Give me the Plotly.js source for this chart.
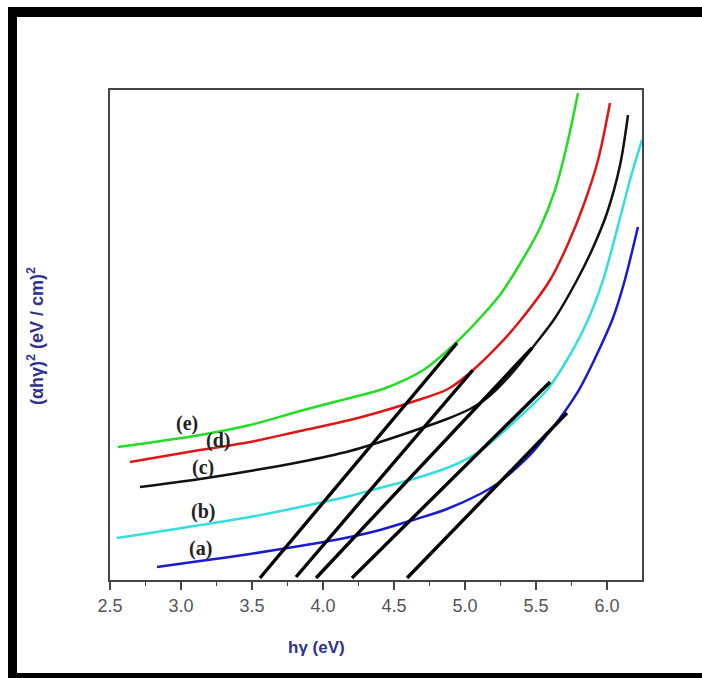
<!DOCTYPE html>
<html>
<head>
<meta charset="utf-8">
<script src="https://cdn.plot.ly/plotly-3.0.1.min.js"></script>
<style>
html,body{margin:0;padding:0;background:#fff;}
#wrap{position:relative;width:702px;height:678px;overflow:hidden;}
#chart{width:702px;height:678px;}
.bd{position:absolute;background:#000;}
</style>
</head>
<body>
<div id="wrap">
<div id="chart"></div>
<div class="bd" style="left:8px;top:7px;width:694px;height:10px;"></div>
<div class="bd" style="left:8px;top:7px;width:9px;height:671px;"></div>
<div class="bd" style="left:8px;top:673px;width:694px;height:5px;"></div>
</div>
<script>
// Photon energy hv (eV) and (alpha h v)^2 (arbitrary units) for samples (a)-(e)
const hvA = [2.831,3.134,3.486,3.838,4.190,4.401,4.634,4.873,5.106,5.225,5.338,5.458,5.577,5.690,5.810,5.930,6.042,6.120,6.218];
const yA  = [2.65,3.88,5.31,6.94,8.78,10.20,12.24,14.49,17.55,19.59,22.24,25.51,29.59,33.88,39.18,46.12,53.47,60.61,72.04];

const hvB = [2.549,2.782,3.134,3.486,3.838,4.190,4.401,4.634,4.873,4.986,5.106,5.338,5.577,5.718,5.859,5.972,6.092,6.162,6.246];
const yB  = [8.57,9.59,11.22,12.86,14.90,17.14,18.78,20.61,22.86,24.29,26.33,32.04,38.78,44.90,52.65,61.22,73.88,81.63,89.80];

const hvC = [2.711,3.134,3.486,3.838,4.190,4.401,4.634,4.873,5.035,5.127,5.225,5.338,5.479,5.634,5.789,5.894,6.000,6.092,6.148];
const yC  = [18.98,20.61,22.24,24.08,26.33,28.16,30.41,32.86,34.90,36.53,38.98,42.45,47.55,53.47,61.22,67.35,74.90,84.69,94.90];

const hvD = [2.641,3.134,3.486,3.838,4.190,4.423,4.648,4.880,5.049,5.232,5.387,5.599,5.725,5.838,5.937,6.021];
const yD  = [24.08,26.53,28.16,30.41,32.65,34.49,36.53,38.98,42.65,47.76,52.86,61.22,68.57,76.73,85.71,97.35];

const hvE = [2.556,3.134,3.486,3.838,4.190,4.423,4.577,4.718,4.866,4.986,5.106,5.246,5.387,5.528,5.634,5.718,5.796];
const yE  = [27.14,29.59,31.63,34.49,37.14,38.98,40.82,43.06,46.53,49.80,53.47,58.16,64.49,71.84,79.59,88.78,99.39];

// Linear extrapolation (Tauc) lines: [x0, x1], [y0, y1]
const fitX = [[3.556,4.944],[3.810,5.056],[3.951,5.472],[4.204,5.599],[4.592,5.718]];
const fitY = [[0.41,48.37],[0.61,42.86],[0.41,47.35],[0.41,40.41],[0.41,34.08]];

const sampleLabels = ['(a)','(b)','(c)','(d)','(e)'];
const tickVals = [2.5,3.0,3.5,4.0,4.5,5.0,5.5,6.0];
const tickText = ['2.5','3.0','3.5','4.0','4.5','5.0','5.5','6.0'];

const colors = ['#1a1ad0','#33dede','#111111','#e01515','#22dd22'];
const series = [[hvA,yA],[hvB,yB],[hvC,yC],[hvD,yD],[hvE,yE]];

const traces = [];
series.forEach((s,i)=>{
  traces.push({x:s[0],y:s[1],mode:'lines',type:'scatter',
    line:{color:colors[i],width:2.5,shape:'spline',smoothing:0.9},hoverinfo:'skip'});
});
fitX.forEach((fx,i)=>{
  traces.push({x:fx,y:fitY[i],mode:'lines',type:'scatter',
    line:{color:'#000',width:3.4},hoverinfo:'skip'});
});

const labelPos = [[3.134,6.33],[3.155,14.08],[3.155,23.06],[3.261,28.57],[3.042,31.84]];
const annotations = sampleLabels.map((t,i)=>({
  x:labelPos[i][0], y:labelPos[i][1], xref:'x', yref:'y', text:'<b>'+t+'</b>',
  xanchor:'center', yanchor:'middle',
  showarrow:false, font:{family:'Liberation Serif, Times New Roman, serif',size:20,color:'#222'}
}));
annotations.push({xref:'paper',yref:'paper',x:0.389,y:-0.137,xanchor:'center',yanchor:'middle',
  text:'<b>hγ (eV)</b>',showarrow:false,
  font:{family:'Liberation Sans, Arial, sans-serif',size:17,color:'#2e3192'}});
annotations.push({xref:'paper',yref:'paper',x:-0.139,y:0.498,xanchor:'center',yanchor:'middle',textangle:-90,
  text:'<b>(αhγ)<sup>2</sup> (eV / cm)<sup>2</sup></b>',showarrow:false,
  font:{family:'Liberation Sans, Arial, sans-serif',size:18,color:'#2e3192'}});

const layout = {
  width:702,height:678,
  margin:{l:110,r:60,t:90,b:98},
  paper_bgcolor:'#fff',plot_bgcolor:'#fff',
  showlegend:false,
  xaxis:{range:[2.5,6.2465],tickvals:tickVals,ticktext:tickText,ticks:'outside',ticklen:8,tickwidth:1.5,
    tickcolor:'#444',showgrid:false,zeroline:false,showline:true,mirror:true,linecolor:'#444',linewidth:2,
    tickfont:{family:'Liberation Sans, Arial, sans-serif',size:18,color:'#555'},
    minor:{dtick:0.25,tick0:2.5,ticks:'outside',ticklen:4,tickcolor:'#444',tickwidth:1.5,showgrid:false}},
  yaxis:{range:[0,100],showticklabels:false,ticks:'',showgrid:false,zeroline:false,showline:true,mirror:true,
    linecolor:'#444',linewidth:2},
  annotations:annotations
};
Plotly.newPlot('chart',traces,layout,{displayModeBar:false,staticPlot:true});
</script>
</body>
</html>
